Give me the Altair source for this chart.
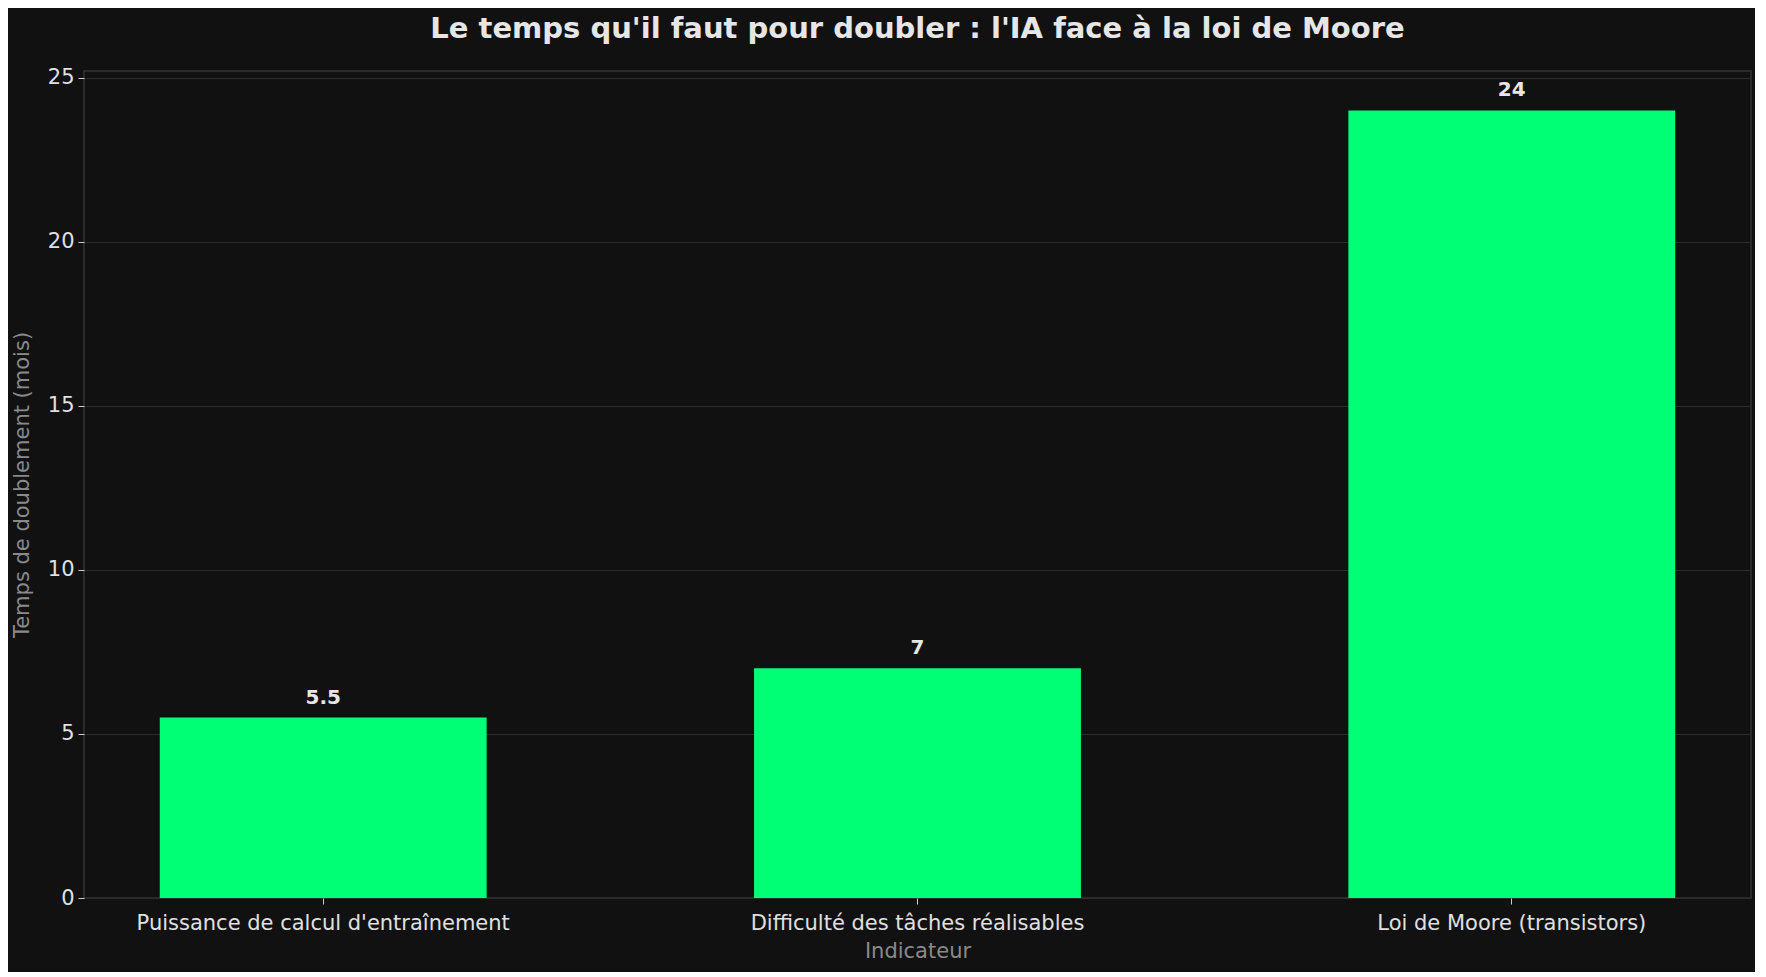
import altair as alt
import pandas as pd

categories = [
    "Puissance de calcul d'entraînement",
    "Difficulté des tâches réalisables",
    "Loi de Moore (transistors)",
]
doubling_months = [5.5, 7, 24]

df = pd.DataFrame({"indicateur": categories, "mois": doubling_months})

FONT = "DejaVu Sans"
BG = "#111111"
W, H = 1667, 827

x_enc = alt.X(
    "indicateur:N",
    sort=categories,
    scale=alt.Scale(paddingInner=0.45, paddingOuter=0.1275),
    axis=alt.Axis(
        title="Indicateur",
        labelAngle=0,
        labelLimit=0,
        labelFontSize=21,
        labelColor="#e0e0e0",
        labelPadding=8,
        tickColor="#cccccc",
        tickSize=6,
        domain=False,
        grid=False,
        titleFontSize=21,
        titleFontWeight="normal",
        titleColor="#8a8a8a",
        titleY=53,
        titleBaseline="middle",
    ),
)

bars = alt.Chart(df).mark_bar(color="#00ff75").encode(
    x=x_enc,
    y=alt.Y(
        "mois:Q",
        scale=alt.Scale(domain=[0, 25.2], nice=False),
        axis=alt.Axis(
            title="Temps de doublement (mois)",
            values=[0, 5, 10, 15, 20, 25],
            labelFontSize=21,
            labelColor="#e0e0e0",
            labelPadding=4,
            tickColor="#cccccc",
            tickSize=6,
            domain=False,
            gridColor="#2c2c2c",
            gridWidth=1.2,
            titleFontSize=21,
            titleFontWeight="normal",
            titleColor="#8a8a8a",
            titleAngle=270,
            titleX=-62,
            titleY=H / 2,
            titleAlign="center",
            titleBaseline="middle",
        ),
    ),
)

labels = alt.Chart(df).mark_text(
    font=FONT,
    fontSize=20,
    fontWeight="bold",
    color="#e6e6e6",
    baseline="bottom",
    dy=-10,
).encode(
    x=alt.X("indicateur:N", sort=categories),
    y="mois:Q",
    text=alt.Text("mois:Q", format="~g"),
)

chart = (
    alt.layer(bars, labels)
    .properties(
        width=W,
        height=H,
        background=BG,
        padding={"left": 76, "top": 63, "right": 4, "bottom": 74},
        autosize=alt.AutoSizeParams(type="none"),
        title=alt.TitleParams(
            "Le temps qu'il faut pour doubler : l'IA face à la loi de Moore",
            font=FONT,
            fontSize=29,
            fontWeight="bold",
            color="#e6e6e6",
            anchor="middle",
            offset=23,
        ),
    )
    .configure(font=FONT)
    .configure_view(fill=BG, stroke="#333333", strokeWidth=1.5)
)

chart.save("out.html", embed_options={"renderer": "svg", "actions": False})
